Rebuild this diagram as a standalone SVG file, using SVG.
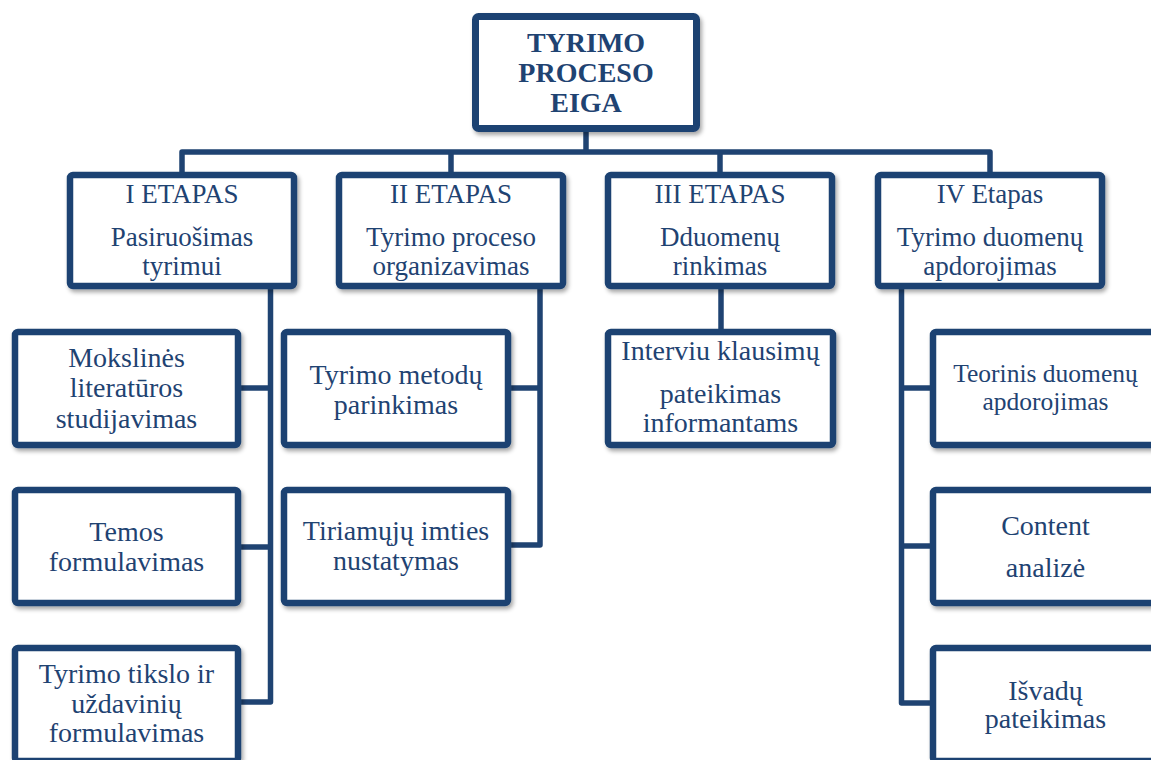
<svg xmlns="http://www.w3.org/2000/svg" width="1151" height="760" viewBox="0 0 1151 760">
  <defs>
    <filter id="shadow" x="-10%" y="-10%" width="125%" height="130%">
      <feDropShadow dx="2" dy="3" stdDeviation="2" flood-color="#000" flood-opacity="0.35"/>
    </filter>
    <style>
      .box { fill: #ffffff; stroke: #1F4372; stroke-width: 6.5; filter: url(#shadow); }
      .main { stroke-width: 7; }
      .lbl { fill: #1F4372; text-anchor: middle; font-size: 28px; }
      .title { font-weight: bold; }
      .mid { font-size: 27px; }
      .sm { font-size: 25.5px; }
      .link { fill: none; stroke: #1F4372; stroke-width: 5.5; stroke-linejoin: round; }
    </style>
  </defs>
  <rect width="1151" height="760" fill="#ffffff"/>

  <!-- connectors -->
  <g id="connectors">
    <path class="link" d="M586,130 V152"/>
    <path class="link" d="M182,174 V152 H990 V174"/>
    <path class="link" d="M451,152 V174"/>
    <path class="link" d="M720,152 V174"/>
    <!-- stage I branch -->
    <path class="link" d="M239,702 H270.5 V287"/>
    <path class="link" d="M239,388 H270.5"/>
    <path class="link" d="M239,547 H270.5"/>
    <!-- stage II branch -->
    <path class="link" d="M509,545 H540 V287"/>
    <path class="link" d="M509,388 H540"/>
    <!-- stage III branch -->
    <path class="link" d="M721,287 V331"/>
    <!-- stage IV branch -->
    <path class="link" d="M932,703 H901.5 V287"/>
    <path class="link" d="M932,388 H901.5"/>
    <path class="link" d="M932,546 H901.5"/>
  </g>

  <g font-family="Liberation Serif, DejaVu Serif, serif">
  <!-- root -->
  <g id="root">
    <rect class="box main" x="475.5" y="16.5" width="221" height="112" rx="3"/>
    <text class="lbl title" x="586" y="52">TYRIMO</text>
    <text class="lbl title" x="586" y="82">PROCESO</text>
    <text class="lbl title" x="586" y="112">EIGA</text>
  </g>

  <!-- stages -->
  <g id="stage1">
    <rect class="box" x="70" y="175" width="224" height="111" rx="3"/>
    <text class="lbl mid" x="182" y="203">I ETAPAS</text>
    <text class="lbl mid" x="182" y="246">Pasiruošimas</text>
    <text class="lbl mid" x="182" y="275">tyrimui</text>
  </g>
  <g id="stage2">
    <rect class="box" x="339" y="175" width="224" height="111" rx="3"/>
    <text class="lbl mid" x="451" y="203">II ETAPAS</text>
    <text class="lbl mid" x="451" y="246">Tyrimo proceso</text>
    <text class="lbl mid" x="451" y="275">organizavimas</text>
  </g>
  <g id="stage3">
    <rect class="box" x="608" y="175" width="224" height="111" rx="3"/>
    <text class="lbl mid" x="720" y="203">III ETAPAS</text>
    <text class="lbl mid" x="720" y="246">Dduomenų</text>
    <text class="lbl mid" x="720" y="275">rinkimas</text>
  </g>
  <g id="stage4">
    <rect class="box" x="878" y="175" width="224" height="111" rx="3"/>
    <text class="lbl mid" x="990" y="203">IV Etapas</text>
    <text class="lbl mid" x="990" y="246">Tyrimo duomenų</text>
    <text class="lbl mid" x="990" y="275">apdorojimas</text>
  </g>

  <!-- stage I tasks -->
  <g id="task1a">
    <rect class="box" x="15" y="332" width="223" height="113" rx="3"/>
    <text class="lbl" x="126.5" y="367">Mokslinės</text>
    <text class="lbl" x="126.5" y="397">literatūros</text>
    <text class="lbl" x="126.5" y="428">studijavimas</text>
  </g>
  <g id="task1b">
    <rect class="box" x="15" y="490" width="223" height="113" rx="3"/>
    <text class="lbl" x="126.5" y="541">Temos</text>
    <text class="lbl" x="126.5" y="571">formulavimas</text>
  </g>
  <g id="task1c">
    <rect class="box" x="15" y="648" width="223" height="113" rx="3"/>
    <text class="lbl" x="126.5" y="683">Tyrimo tikslo ir</text>
    <text class="lbl" x="126.5" y="713">uždavinių</text>
    <text class="lbl" x="126.5" y="742">formulavimas</text>
  </g>

  <!-- stage II tasks -->
  <g id="task2a">
    <rect class="box" x="284" y="332" width="224" height="113" rx="3"/>
    <text class="lbl" x="396" y="384">Tyrimo metodų</text>
    <text class="lbl" x="396" y="414">parinkimas</text>
  </g>
  <g id="task2b">
    <rect class="box" x="284" y="490" width="224" height="113" rx="3"/>
    <text class="lbl" x="396" y="540">Tiriamųjų imties</text>
    <text class="lbl" x="396" y="570">nustatymas</text>
  </g>

  <!-- stage III task -->
  <g id="task3a">
    <rect class="box" x="608" y="332" width="225" height="113" rx="3"/>
    <text class="lbl" x="720.5" y="360">Interviu klausimų</text>
    <text class="lbl" x="720.5" y="403">pateikimas</text>
    <text class="lbl" x="720.5" y="432">informantams</text>
  </g>

  <!-- stage IV tasks -->
  <g id="task4a">
    <rect class="box" x="933" y="332" width="225" height="113" rx="3"/>
    <text class="lbl sm" x="1045.5" y="382">Teorinis duomenų</text>
    <text class="lbl sm" x="1045.5" y="410">apdorojimas</text>
  </g>
  <g id="task4b">
    <rect class="box" x="933" y="490" width="225" height="113" rx="3"/>
    <text class="lbl" x="1045.5" y="535">Content</text>
    <text class="lbl" x="1045.5" y="577">analizė</text>
  </g>
  <g id="task4c">
    <rect class="box" x="933" y="648" width="225" height="113" rx="3"/>
    <text class="lbl" x="1045.5" y="700">Išvadų</text>
    <text class="lbl" x="1045.5" y="728">pateikimas</text>
  </g>
  </g>
</svg>
